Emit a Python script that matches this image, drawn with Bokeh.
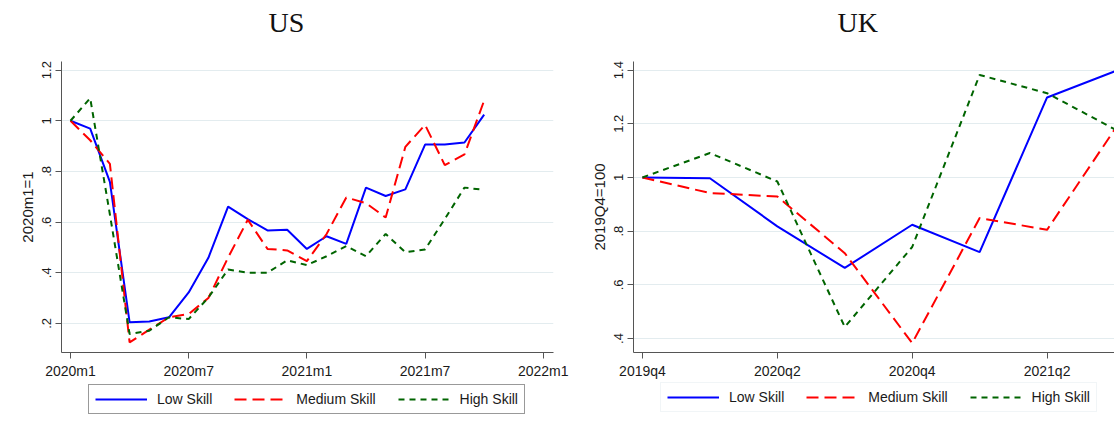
from bokeh.plotting import figure
from bokeh.models import FixedTicker, Legend, LegendItem, Range1d, Title
from bokeh.layouts import row, column
from bokeh.embed import file_html
from bokeh.resources import INLINE

# ---------------- data ----------------
us_months = list(range(22))  # 0 = 2020m1
us_low = [1.0, 0.969, 0.759, 0.204, 0.207, 0.224, 0.322, 0.459, 0.661, 0.612, 0.567,
          0.570, 0.494, 0.544, 0.514, 0.736, 0.703, 0.729, 0.906, 0.906, 0.914, 1.024]
us_med = [1.0, 0.923, 0.830, 0.125, 0.175, 0.224, 0.237, 0.300, 0.460, 0.609, 0.494,
          0.488, 0.446, 0.553, 0.697, 0.675, 0.618, 0.897, 0.984, 0.825, 0.867, 1.080]
us_high = [1.0, 1.089, 0.630, 0.158, 0.171, 0.224, 0.217, 0.302, 0.413, 0.400, 0.400,
           0.449, 0.430, 0.465, 0.505, 0.465, 0.553, 0.481, 0.492, 0.612, 0.736, 0.727]
us_xticks = [0, 6, 12, 18, 24]
us_xlabels = ["2020m1", "2020m7", "2021m1", "2021m7", "2022m1"]
us_yticks = [0.2, 0.4, 0.6, 0.8, 1.0, 1.2]
us_ylabels = [".2", ".4", ".6", ".8", "1", "1.2"]

uk_quarters = list(range(8))  # 0 = 2019q4
uk_low = [1.0, 0.997, 0.818, 0.663, 0.824, 0.722, 1.298, 1.395]
uk_med = [1.0, 0.942, 0.929, 0.718, 0.383, 0.849, 0.805, 1.178]
uk_high = [1.0, 1.091, 0.985, 0.443, 0.741, 1.382, 1.314, 1.180]
uk_xticks = [0, 2, 4, 6]
uk_xlabels = ["2019q4", "2020q2", "2020q4", "2021q2"]
uk_yticks = [0.4, 0.6, 0.8, 1.0, 1.2, 1.4]
uk_ylabels = [".4", ".6", ".8", "1", "1.2", "1.4"]

series_names = ["Low Skill", "Medium Skill", "High Skill"]
series_colors = ["#0000ff", "#ff0000", "#006400"]
series_dash = ["solid", "12 6", "6 5"]

GRID = "#e3ecef"
AXIS = "#555555"
TXT = "#1a1a1a"


def make_panel(title, title_off, xs, ys_list, xr, yr, xticks, xlabels, yticks, ylabels,
               ylabel, frame_w, border_l, border_r):
    p = figure(frame_width=frame_w, frame_height=291, title=None,
               x_range=Range1d(*xr), y_range=Range1d(*yr),
               output_backend="svg", toolbar_location=None,
               min_border_left=border_l, min_border_right=border_r,
               min_border_top=61, min_border_bottom=28)
    p.outline_line_color = None
    p.background_fill_color = "white"
    p.border_fill_color = "white"

    # blank spacer next to the frame, then the title above it
    p.add_layout(Title(text=" ", text_color="white", text_font_size="16px", standoff=4), "above")
    p.add_layout(Title(text=title, align="left", offset=title_off,
                       text_font="Liberation Serif", text_font_size="28px",
                       text_font_style="normal", text_color="#111111", standoff=2), "above")

    for ys, col, dash in zip(ys_list, series_colors, series_dash):
        p.line(xs, ys, line_color=col, line_width=2, line_dash=dash)

    p.xgrid.visible = False
    p.ygrid.grid_line_color = GRID
    p.ygrid.grid_line_width = 1

    p.xaxis.ticker = FixedTicker(ticks=xticks)
    p.xaxis.major_label_overrides = {t: l for t, l in zip(xticks, xlabels)}
    p.yaxis.ticker = FixedTicker(ticks=yticks)
    p.yaxis.major_label_overrides = {t: l for t, l in zip(yticks, ylabels)}
    p.yaxis.major_label_orientation = "vertical"
    p.yaxis.axis_label = ylabel
    p.yaxis.axis_label_text_font = "Liberation Sans"
    p.yaxis.axis_label_text_font_size = "15px"
    p.yaxis.axis_label_text_font_style = "normal"
    p.yaxis.axis_label_text_color = TXT
    p.yaxis.axis_label_standoff = 4
    for ax in (p.xaxis, p.yaxis):
        ax.axis_line_color = AXIS
        ax.major_tick_line_color = AXIS
        ax.major_tick_out = 6
        ax.major_tick_in = 0
        ax.minor_tick_line_color = None
        ax.major_label_text_font = "Liberation Sans"
        ax.major_label_text_color = TXT
        ax.major_label_standoff = 4
    p.xaxis.major_label_text_font_size = "14px"
    p.yaxis.major_label_text_font_size = "13px"
    return p


def make_legend(width, xs, ys_list, loc, border_col):
    # legend-only strip: the series are drawn outside the visible range, only the legend shows
    q = figure(frame_width=width, frame_height=45,
               x_range=Range1d(-200, -199), y_range=Range1d(-200, -199),
               x_axis_type=None, y_axis_type=None, title=None,
               output_backend="svg", toolbar_location=None,
               min_border_left=0, min_border_right=0, min_border_top=0, min_border_bottom=0)
    q.outline_line_color = None
    q.xgrid.visible = False
    q.ygrid.visible = False
    items = []
    for ys, name, col, dash in zip(ys_list, series_names, series_colors, series_dash):
        r = q.line(xs, ys, line_color=col, line_width=2, line_dash=dash)
        items.append(LegendItem(label=name, renderers=[r]))
    lg = Legend(items=items, orientation="horizontal", location=loc,
                label_text_font="Liberation Sans", label_text_font_size="14px",
                label_text_color=TXT, glyph_width=52, glyph_height=14, label_height=14,
                label_standoff=10, spacing=22, padding=6, margin=0,
                border_line_color=border_col, border_line_width=1,
                background_fill_color="white", background_fill_alpha=1)
    q.add_layout(lg, "center")
    return q


us = make_panel("US", 207, us_months, [us_low, us_med, us_high],
                (-0.457, 24.52), (0.085, 1.234),
                us_xticks, us_xlabels, us_yticks, us_ylabels, "2020m1=1",
                492, 61, 27)
uk = make_panel("UK", 204, uk_quarters, [uk_low, uk_med, uk_high],
                (-0.133, 7.0), (0.348, 1.432),
                uk_xticks, uk_xlabels, uk_yticks, uk_ylabels, "2019Q4=100",
                481, 53, 0)

leg_us = make_legend(580, us_months, [us_low, us_med, us_high], (88, 12), "#333333")
leg_uk = make_legend(534, uk_quarters, [uk_low, uk_med, uk_high], (80, 14), "#e3ecef")

layout = column(row(us, uk, spacing=0), row(leg_us, leg_uk, spacing=0), spacing=0)
open("out.html", "w").write(file_html(layout, INLINE))
